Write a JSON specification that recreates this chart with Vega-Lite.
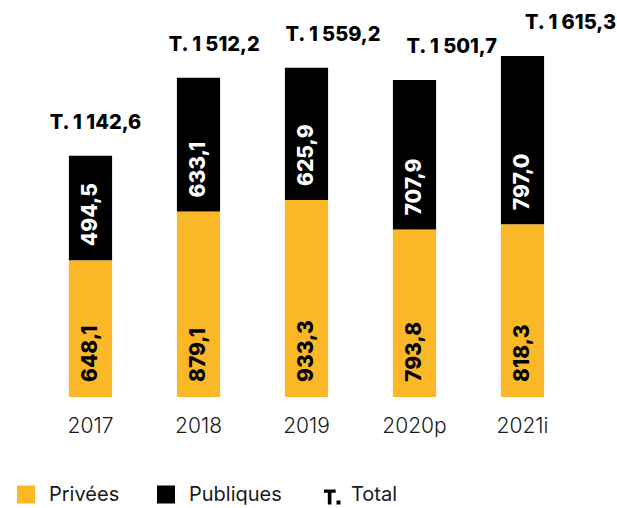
{
  "$schema": "https://vega.github.io/schema/vega-lite/v6.json",
  "width": 540,
  "height": 380,
  "autosize": "none",
  "padding": {"left": 36.5, "top": 17, "right": 40.5, "bottom": 111},
  "background": "white",
  "config": {
    "locale": {"number": {"decimal": ",", "thousands": " ", "grouping": [3], "currency": ["T. ", ""]}},
    "font": "Inter",
    "view": {"stroke": null}
  },
  "data": {
    "values": [
      {"year": "2017", "Privées": 648.1, "Publiques": 494.5, "Total": 1142.6},
      {"year": "2018", "Privées": 879.1, "Publiques": 633.1, "Total": 1512.2},
      {"year": "2019", "Privées": 933.3, "Publiques": 625.9, "Total": 1559.2},
      {"year": "2020p", "Privées": 793.8, "Publiques": 707.9, "Total": 1501.7},
      {"year": "2021i", "Privées": 818.3, "Publiques": 797.0, "Total": 1615.3}
    ]
  },
  "resolve": {"scale": {"x": "independent"}},
  "layer": [
    {
      "encoding": {
        "x": {
          "field": "year", "type": "nominal", "sort": null,
          "scale": {"type": "band", "paddingInner": 0.6, "paddingOuter": 0.3},
          "axis": {"title": null, "domain": false, "ticks": false, "labelAngle": 0, "labelFontSize": 21, "labelFontWeight": 300, "labelColor": "#1a1a1a", "labelPadding": 18, "labelFont": "Inter"}
        }
      },
      "layer": [
        {
          "transform": [{"fold": ["Privées", "Publiques"], "as": ["type", "value"]}],
          "mark": {"type": "bar"},
          "encoding": {
            "y": {"field": "value", "type": "quantitative", "stack": "zero", "scale": {"domain": [0, 1800], "nice": false}, "axis": null},
            "color": {
              "field": "type", "type": "nominal",
              "scale": {"domain": ["Privées", "Publiques", "Total"], "range": ["#FBB826", "#000000", "#000000"]},
              "legend": {
                "orient": "none", "legendX": -20.5, "legendY": 467.5, "direction": "horizontal",
                "title": null, "symbolType": "square", "symbolSize": 324, "symbolStrokeWidth": 0,
                "symbolOpacity": 1,
                "labelFont": "Inter", "labelFontSize": 20, "labelColor": "#1a1a1a", "labelOffset": 13,
                "columnPadding": 36, "padding": 0,
                "encode": {"symbols": {"update": {"shape": {"signal": "datum.value === 'Total' ? 'M-0.45,-0.55H0.85V-0.2H0.38V1.1H-0.02V-0.2H-0.45Z M0.95,0.68H1.38V1.1H0.95Z' : 'square'"}}}}
              }
            },
            "order": {"field": "type"}
          }
        },
        {
          "mark": {"type": "text", "angle": 270, "align": "left", "baseline": "middle", "dx": 15, "font": "Inter", "fontWeight": 800, "fontSize": 21, "color": "#000000"},
          "encoding": {
            "y": {"datum": 0, "type": "quantitative"},
            "text": {"field": "Privées", "type": "quantitative", "format": ",.1f"}
          }
        },
        {
          "mark": {"type": "text", "angle": 270, "align": "left", "baseline": "middle", "dx": 14, "font": "Inter", "fontWeight": 800, "fontSize": 21, "color": "#ffffff"},
          "encoding": {
            "y": {"field": "Privées", "type": "quantitative"},
            "text": {"field": "Publiques", "type": "quantitative", "format": ",.1f"}
          }
        }
      ]
    },
    {
      "mark": {"type": "text", "align": "center", "baseline": "middle", "dy": -33, "font": "Inter", "fontWeight": 800, "fontSize": 20, "color": "#000000"},
      "encoding": {
        "x": {"field": "year", "type": "nominal", "sort": null, "scale": {"type": "point", "padding": 0.2737, "align": 0.908}, "axis": null},
        "y": {"field": "Total", "type": "quantitative"},
        "text": {"field": "Total", "type": "quantitative", "format": "$,.1f"}
      }
    }
  ]
}
